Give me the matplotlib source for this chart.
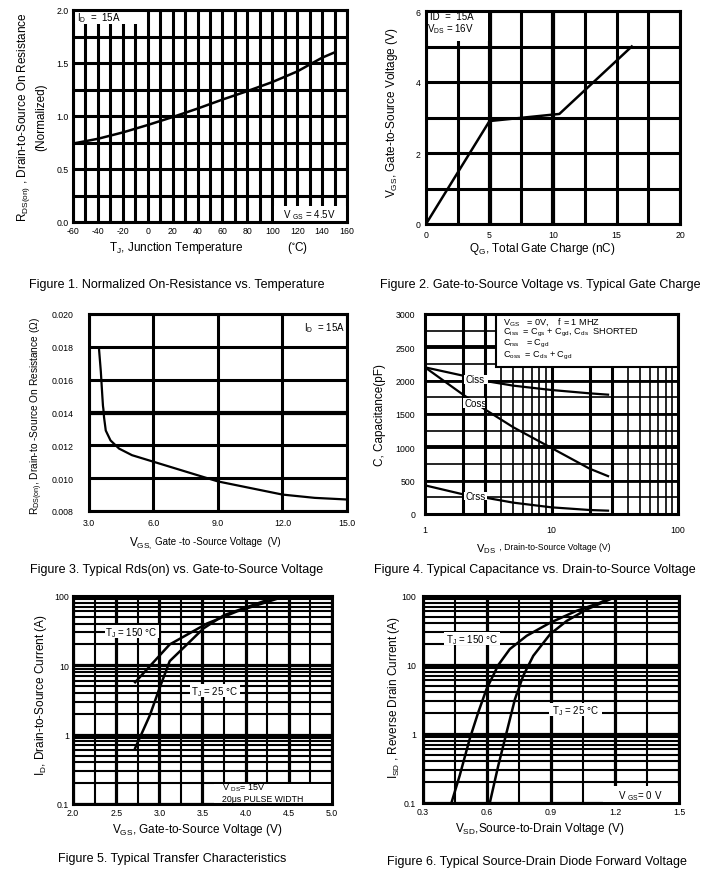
import numpy as np
import matplotlib
matplotlib.use("Agg")
import matplotlib.pyplot as plt
from matplotlib.patches import Rectangle
from matplotlib.ticker import MultipleLocator, FixedLocator, FixedFormatter, NullFormatter, LogLocator, FormatStrFormatter

plt.rcParams['font.family'] = ['Liberation Sans', 'DejaVu Sans']
plt.rcParams['mathtext.fontset'] = 'custom'
plt.rcParams['mathtext.rm'] = 'Liberation Sans'
plt.rcParams['mathtext.it'] = 'Liberation Sans'
plt.rcParams['mathtext.default'] = 'regular'
plt.rcParams['axes.unicode_minus'] = False

W, H = 713, 879
TICK = 6.3
LAB = 8.5
BOX = 7

# Figure 1 - normalized Rds(on) vs temperature
tj = [-60, -40, -20, 0, 20, 40, 60, 80, 100, 120, 140, 150]
rds_norm = [0.74, 0.785, 0.845, 0.915, 0.99, 1.07, 1.155, 1.235, 1.32, 1.42, 1.55, 1.60]

# Figure 2 - gate charge
qg = [0, 5, 10.5, 16.2]
vgs_qg = [0, 2.9, 3.1, 5.0]

# Figure 3 - Rds(on) vs Vgs
vgs_r = [3.47, 3.55, 3.62, 3.65, 3.67, 3.70, 3.78, 4.0, 4.4, 5.0, 6.0, 7.5, 9.0, 10.5, 12.0, 13.5, 15.0]
rds_v = [0.0178, 0.0165, 0.0150, 0.0144, 0.0142, 0.0137, 0.0129, 0.0123, 0.0118, 0.0114,
         0.0110, 0.0104, 0.0098, 0.0094, 0.0090, 0.0088, 0.0087]

# Figure 4 - capacitance
vds_c = [1, 2, 3, 5, 10, 20, 28]
ciss = [2200, 2075, 1995, 1925, 1860, 1810, 1790]
coss = [2200, 1790, 1565, 1300, 990, 680, 568]
crss = [430, 295, 245, 170, 100, 60, 50]

# Figure 5 - transfer characteristics
vgs_150 = [2.72, 3.12, 3.55, 3.9, 4.15, 4.42]
id_150 = [5.7, 20, 40, 60, 75, 96]
vgs_25 = [2.72, 2.89, 3.0, 3.12, 3.32, 3.51, 3.75, 4.0, 4.35]
id_25 = [0.64, 1.9, 4.6, 11.5, 20, 34, 53, 68, 97]

# Figure 6 - diode forward voltage
vsd_150 = [0.433, 0.472, 0.519, 0.559, 0.598, 0.653, 0.707, 0.786, 0.896, 1.02, 1.13, 1.19]
isd_150 = [0.1, 0.25, 0.85, 2.06, 4.5, 10, 17, 26.5, 41, 61, 80, 98]
vsd_25 = [0.613, 0.653, 0.692, 0.731, 0.77, 0.817, 0.896, 0.974, 1.068, 1.16, 1.21]
isd_25 = [0.1, 0.35, 1.06, 3.2, 7, 13.6, 28, 43.6, 64, 85, 99]

captions = ["Figure 1. Normalized On-Resistance vs. Temperature",
            "Figure 2. Gate-to-Source Voltage vs. Typical Gate Charge",
            "Figure 3. Typical Rds(on) vs. Gate-to-Source Voltage",
            "Figure 4. Typical Capacitance vs. Drain-to-Source Voltage",
            "Figure 5. Typical Transfer Characteristics",
            "Figure 6. Typical Source-Drain Diode Forward Voltage"]

fig = plt.figure(figsize=(W / 100, H / 100), dpi=100)


def axes_px(l, t, r, b):
    ax = fig.add_axes([l / W, 1 - b / H, (r - l) / W, (b - t) / H])
    ax.set_axisbelow(True)
    for s in ax.spines.values():
        s.set_linewidth(2.2)
        s.set_zorder(6)
    return ax


def ftext(x, y, s, **kw):
    kw.setdefault('ha', 'center')
    kw.setdefault('va', 'center')
    kw.setdefault('fontsize', LAB)
    fig.text(x / W, 1 - y / H, s, **kw)


def wbox(ax, x0, y0, x1, y1, edge='none'):
    ax.add_patch(Rectangle((x0, y0), x1 - x0, y1 - y0, facecolor='white',
                           edgecolor=edge, lw=1.5, zorder=3))


# ---- Figure 1
ax1 = axes_px(73, 11, 347, 223)
ax1.plot(tj, rds_norm, color='black', lw=1.8, zorder=2)
ax1.set_xlim(-60, 160)
ax1.set_ylim(0, 2)
ax1.xaxis.set_major_locator(MultipleLocator(20))
ax1.xaxis.set_minor_locator(MultipleLocator(10))
ax1.yaxis.set_major_locator(MultipleLocator(0.5))
ax1.yaxis.set_minor_locator(MultipleLocator(0.25))
ax1.yaxis.set_major_formatter(FormatStrFormatter('%.1f'))
ax1.grid(which='both', color='black', lw=2.2)
ax1.tick_params(which='both', length=0, labelsize=TICK, pad=3)
wbox(ax1, -60, 1.87, -2, 2.0)
ax1.text(-57, 1.935, 'I$_D$  =  15A', fontsize=BOX, va='center', zorder=4)
wbox(ax1, 101, 0, 160, 0.15)
ax1.text(130, 0.075, 'V $_{GS}$ = 4.5V', fontsize=BOX, ha='center', va='center', zorder=4)
ftext(176, 248, 'T$_J$, Junction Temperature')
ftext(297, 248, '($^{\\circ}$C)')
ftext(24, 117, 'R$_{DS(on)}$ , Drain-to-Source On Resistance', rotation=90)
ftext(41, 117, '(Normalized)', rotation=90)

# ---- Figure 2
ax2 = axes_px(426, 12, 680, 225)
ax2.plot(qg, vgs_qg, color='black', lw=1.8, zorder=2)
ax2.set_xlim(0, 20)
ax2.set_ylim(0, 6)
ax2.xaxis.set_major_locator(MultipleLocator(5))
ax2.xaxis.set_minor_locator(MultipleLocator(2.5))
ax2.yaxis.set_major_locator(MultipleLocator(2))
ax2.yaxis.set_minor_locator(MultipleLocator(1))
ax2.grid(which='both', color='black', lw=2.2)
for xv in [5, 10]:
    ax2.axvline(xv, color='black', lw=3, zorder=0.6)
ax2.tick_params(which='both', length=0, labelsize=TICK, pad=4)
wbox(ax2, 0, 5.15, 4.9, 6)
ax2.text(0.3, 5.86, 'ID  =  15A', fontsize=BOX, va='center', zorder=4)
ax2.text(0.05, 5.53, 'V$_{DS}$ = 16V', fontsize=BOX, va='center', zorder=4)
ftext(542, 249, 'Q$_G$, Total Gate Charge (nC)')
ftext(392, 113, 'V$_{GS}$, Gate-to-Source Voltage (V)', rotation=90)

# ---- Figure 3
ax3 = axes_px(89, 315, 347, 512)
ax3.plot(vgs_r, rds_v, color='black', lw=1.6, zorder=2)
ax3.set_xlim(3, 15)
ax3.set_ylim(0.008, 0.020)
ax3.xaxis.set_major_locator(MultipleLocator(3))
ax3.yaxis.set_major_locator(MultipleLocator(0.002))
ax3.xaxis.set_major_formatter(FormatStrFormatter('%.1f'))
ax3.yaxis.set_major_formatter(FormatStrFormatter('%.3f'))
ax3.grid(which='major', color='black', lw=2.2)
ax3.axhline(0.014, color='black', lw=3, zorder=0.6)
ax3.tick_params(which='both', length=0, labelsize=TICK)
ax3.tick_params(axis='y', pad=11)
ax3.tick_params(axis='x', pad=5)
ax3.text(13.0, 0.0192, 'I$_D$  = 15A', fontsize=BOX, va='center', zorder=4)
ftext(152, 543, 'V$_{GS,}$', ha='right')
ftext(155, 542, 'Gate -to -Source Voltage  (V)', ha='left', fontsize=7)
ftext(37, 416, 'R$_{DS(on)}$, Drain-to -Source On Resistance (\u03a9)', rotation=90, fontsize=7.3)

# ---- Figure 4
ax4 = axes_px(425, 315, 678, 515)
ax4.set_xscale('log')
ax4.plot(vds_c, ciss, color='black', lw=1.6, zorder=2)
ax4.plot(vds_c, coss, color='black', lw=1.6, zorder=2)
ax4.plot(vds_c, crss, color='black', lw=1.6, zorder=2)
ax4.set_xlim(1, 100)
ax4.set_ylim(0, 3000)
ax4.xaxis.set_major_locator(FixedLocator([1, 10, 100]))
ax4.xaxis.set_major_formatter(FixedFormatter(['1', '10', '100']))
ax4.xaxis.set_minor_locator(LogLocator(base=10, subs=np.arange(2, 10)))
ax4.xaxis.set_minor_formatter(NullFormatter())
ax4.yaxis.set_major_locator(MultipleLocator(500))
ax4.yaxis.set_minor_locator(MultipleLocator(250))
ax4.grid(which='both', color='black', lw=1.2)
for xv in [2, 3, 10, 20, 30]:
    ax4.axvline(xv, color='black', lw=2.2, zorder=0.6)
for yv in [500, 1000, 1500, 2000, 2500]:
    ax4.axhline(yv, color='black', lw=2.0 if yv not in (1000, 2500) else 2.8, zorder=0.6)
ax4.tick_params(which='both', length=0, labelsize=TICK)
ax4.tick_params(axis='y', pad=7)
ax4.tick_params(axis='x', pad=8)
wbox(ax4, 3.64, 2200, 100, 3000, edge='black')
box_lines = ['V$_{GS}$   = 0V,    f = 1 MHZ',
             'C$_{iss}$  = C$_{gs}$ + C$_{gd}$, C$_{ds}$  SHORTED',
             'C$_{rss}$   = C$_{gd}$',
             'C$_{oss}$  = C$_{ds}$ + C$_{gd}$']
for yv, s in zip([2900, 2730, 2560, 2390], box_lines):
    ax4.text(4.1, yv, s, fontsize=6.6, va='center', zorder=4)
wbox(ax4, 2.05, 1950, 3.15, 2090)
ax4.text(2.1, 2020, 'Ciss', fontsize=BOX, va='center', zorder=4)
wbox(ax4, 2.0, 1590, 3.0, 1740)
ax4.text(2.05, 1660, 'Coss', fontsize=BOX, va='center', zorder=4)
wbox(ax4, 2.05, 215, 3.1, 330)
ax4.text(2.1, 270, 'Crss', fontsize=BOX, va='center', zorder=4)
ftext(496, 549, 'V$_{DS}$', ha='right', fontsize=8)
ftext(497, 548, ' , Drain-to-Source Voltage (V)', ha='left', fontsize=6.2)
ftext(380, 415, 'C, Capacitance(pF)', rotation=90)

# ---- Figure 5
ax5 = axes_px(73, 597, 332, 805)
ax5.set_yscale('log')
ax5.plot(vgs_150, id_150, color='black', lw=1.8, zorder=2)
ax5.plot(vgs_25, id_25, color='black', lw=1.8, zorder=2)
ax5.set_xlim(2, 5)
ax5.set_ylim(0.1, 100)
ax5.xaxis.set_major_locator(MultipleLocator(0.5))
ax5.xaxis.set_minor_locator(MultipleLocator(0.25))
ax5.xaxis.set_major_formatter(FormatStrFormatter('%.1f'))
ax5.yaxis.set_major_locator(FixedLocator([0.1, 1, 10, 100]))
ax5.yaxis.set_major_formatter(FixedFormatter(['0.1', '1', '10', '100']))
ax5.yaxis.set_minor_locator(LogLocator(base=10, subs=np.arange(2, 10)))
ax5.yaxis.set_minor_formatter(NullFormatter())
ax5.grid(which='both', color='black', lw=1.5)
ax5.grid(which='major', color='black', lw=2.3)
ax5.tick_params(which='both', length=0, labelsize=TICK, pad=3)
wbox(ax5, 2.37, 24.7, 3.0, 37.7)
ax5.text(2.68, 30.5, 'T$_J$ = 150 \u00b0C', fontsize=BOX, ha='center', va='center', zorder=4)
wbox(ax5, 3.35, 3.47, 3.93, 5.4)
ax5.text(3.64, 4.3, 'T$_J$ = 25 \u00b0C', fontsize=BOX, ha='center', va='center', zorder=4)
wbox(ax5, 3.63, 0.1, 5.0, 0.195)
ax5.text(3.73, 0.176, 'V $_{DS}$= 15V', fontsize=6.5, va='center', zorder=4)
ax5.text(3.73, 0.121, '20\u03bcs PULSE WIDTH', fontsize=6.3, va='center', zorder=4)
ftext(197, 830, 'V$_{GS}$, Gate-to-Source Voltage (V)')
ftext(41, 695, 'I$_D$, Drain-to-Source Current (A)', rotation=90)

# ---- Figure 6
ax6 = axes_px(423, 597, 679, 804)
ax6.set_yscale('log')
ax6.plot(vsd_150, isd_150, color='black', lw=1.8, zorder=2)
ax6.plot(vsd_25, isd_25, color='black', lw=1.8, zorder=2)
ax6.set_xlim(0.3, 1.5)
ax6.set_ylim(0.1, 100)
ax6.xaxis.set_major_locator(MultipleLocator(0.3))
ax6.xaxis.set_minor_locator(MultipleLocator(0.15))
ax6.xaxis.set_major_formatter(FormatStrFormatter('%.1f'))
ax6.yaxis.set_major_locator(FixedLocator([0.1, 1, 10, 100]))
ax6.yaxis.set_major_formatter(FixedFormatter(['0.1', '1', '10', '100']))
ax6.yaxis.set_minor_locator(LogLocator(base=10, subs=np.arange(2, 10)))
ax6.yaxis.set_minor_formatter(NullFormatter())
ax6.grid(which='both', color='black', lw=1.5)
ax6.grid(which='major', color='black', lw=2.3)
ax6.tick_params(which='both', length=0, labelsize=TICK)
ax6.tick_params(axis='y', pad=5)
ax6.tick_params(axis='x', pad=3)
wbox(ax6, 0.40, 19.4, 0.66, 30.2)
ax6.text(0.53, 24, 'T$_J$ = 150 \u00b0C', fontsize=BOX, ha='center', va='center', zorder=4)
wbox(ax6, 0.89, 1.8, 1.14, 2.8)
ax6.text(1.015, 2.25, 'T$_J$ = 25 \u00b0C', fontsize=BOX, ha='center', va='center', zorder=4)
wbox(ax6, 1.146, 0.1, 1.5, 0.175)
ax6.text(1.32, 0.132, 'V $_{GS}$= 0 V', fontsize=BOX, ha='center', va='center', zorder=4)
ftext(540, 829, 'V$_{SD}$,Source-to-Drain Voltage (V)')
ftext(394, 698, 'I$_{SD}$ , Reverse Drain Current (A)', rotation=90)

# captions
cap_pos = [(177, 285), (540, 285), (177, 570), (535, 570), (172, 859), (537, 862)]
for (cx, cy), s in zip(cap_pos, captions):
    ftext(cx, cy, s, fontsize=9)

fig.savefig('out.png', dpi=100)
